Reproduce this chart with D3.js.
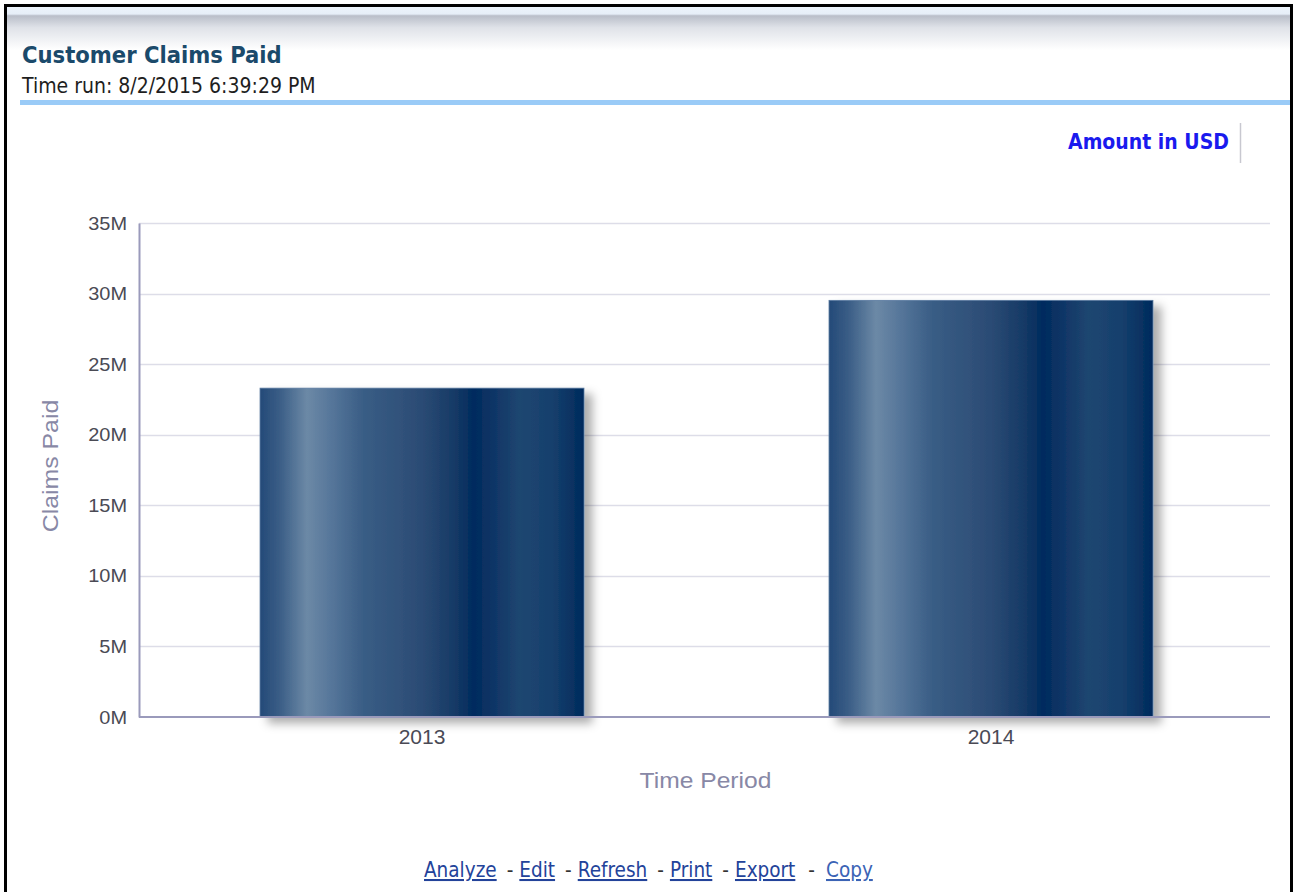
<!DOCTYPE html>
<html>
<head>
<meta charset="utf-8">
<script src="https://cdn.jsdelivr.net/npm/d3@7"></script>
<style>
  html, body { margin: 0; padding: 0; background: #fff; }
  svg { display: block; }
</style>
</head>
<body>
<svg id="chart" width="1296" height="892"></svg>
<script>
// ---- data ----
const categories = ["2013", "2014"];
const claimsPaid = [23300000, 29520000];
const yTicks = [0, 5000000, 10000000, 15000000, 20000000, 25000000, 30000000, 35000000];
const yTickLabels = ["0M", "5M", "10M", "15M", "20M", "25M", "30M", "35M"];
const chartTitle = "Customer Claims Paid";
const timeRun = "Time run: 8/2/2015 6:39:29 PM";
const unitLabel = "Amount in USD";
const xAxisTitle = "Time Period";
const yAxisTitle = "Claims Paid";
const footerLinks = ["Analyze", "Edit", "Refresh", "Print", "Export", "Copy"];

const svg = d3.select("#chart");

// ---- defs ----
const defs = svg.append("defs");
const hdr = defs.append("linearGradient").attr("id", "hdrGrad")
  .attr("x1", 0).attr("y1", 0).attr("x2", 0).attr("y2", 1);
[[0, "#eef5fc"], [0.2, "#e6eef8"], [0.24, "#b9bec9"], [0.5, "#dfe2e8"], [1, "#ffffff"]]
  .forEach(([o, c]) => hdr.append("stop").attr("offset", o).attr("stop-color", c));

const barGrad = defs.append("linearGradient").attr("id", "barGrad")
  .attr("x1", 0).attr("y1", 0).attr("x2", 1).attr("y2", 0);
[[0, "#244a78"], [0.06, "#3a5d86"], [0.145, "#6c89a6"], [0.22, "#56769a"],
 [0.32, "#395d85"], [0.5, "#2b4b74"], [0.6, "#163a66"], [0.66, "#002b5e"],
 [0.72, "#0f3566"], [0.8, "#1f4670"], [0.9, "#16406d"], [1, "#002a5c"]]
  .forEach(([o, c]) => barGrad.append("stop").attr("offset", o).attr("stop-color", c));

const shadow = defs.append("filter").attr("id", "barShadow")
  .attr("x", "-10%").attr("y", "-10%").attr("width", "130%").attr("height", "130%");
shadow.append("feDropShadow").attr("dx", 8).attr("dy", 6).attr("stdDeviation", 5)
  .attr("flood-color", "#000").attr("flood-opacity", 0.32);

// ---- frame / header ----
svg.append("rect").attr("x", 5).attr("y", 5).attr("width", 1286).attr("height", 45)
  .attr("fill", "url(#hdrGrad)");
svg.append("path")
  .attr("d", "M5.5,896 V5.5 H1291.5 V896")
  .attr("fill", "none").attr("stroke", "#000").attr("stroke-width", 3);

const headFont = "'DejaVu Sans', Tahoma, Verdana, sans-serif";
svg.append("text").attr("x", 22).attr("y", 63)
  .attr("font-family", headFont).attr("font-stretch", "condensed")
  .attr("font-weight", "bold").attr("font-size", 23.5).attr("fill", "#1b4a6b")
  .text(chartTitle);
svg.append("text").attr("x", 22).attr("y", 93)
  .attr("font-family", headFont).attr("font-stretch", "condensed")
  .attr("font-size", 21).attr("fill", "#1e1e1e")
  .text(timeRun);
svg.append("rect").attr("x", 20).attr("y", 100).attr("width", 1270).attr("height", 5)
  .attr("fill", "#9acbf7");

// unit label
svg.append("text").attr("x", 1229).attr("y", 149).attr("text-anchor", "end")
  .attr("font-family", headFont).attr("font-stretch", "condensed")
  .attr("font-weight", "bold").attr("font-size", 21).attr("fill", "#1a1aee")
  .text(unitLabel);
svg.append("line").attr("x1", 1240.5).attr("x2", 1240.5).attr("y1", 123).attr("y2", 163)
  .attr("stroke", "#c8c8d0").attr("stroke-width", 1.5);

// ---- chart ----
const plot = { left: 139, right: 1270, top: 223, bottom: 717 };
const x = d3.scaleBand().domain(categories)
  .range([plot.left, plot.right + 4]).paddingInner(0.4306).paddingOuter(0.2127);
const y = d3.scaleLinear().domain([0, 35000000]).range([plot.bottom, plot.top]);

const chartFont = "'Liberation Sans', Arial, sans-serif";

// gridlines
svg.append("g").selectAll("line").data(yTicks.filter(d => d > 0)).join("line")
  .attr("x1", plot.left).attr("x2", plot.right)
  .attr("y1", d => Math.round(y(d)) + 0.5).attr("y2", d => Math.round(y(d)) + 0.5)
  .attr("stroke", "#dddde8").attr("stroke-width", 1.5);

// bars
svg.append("g").selectAll("rect").data(categories).join("rect")
  .attr("x", d => x(d))
  .attr("y", (d, i) => y(claimsPaid[i]))
  .attr("width", x.bandwidth())
  .attr("height", (d, i) => y(0) - y(claimsPaid[i]))
  .attr("fill", "url(#barGrad)")
  .attr("stroke", "#5a7aa0").attr("stroke-width", 0.8)
  .attr("filter", "url(#barShadow)");

// y axis
const yAxis = d3.axisLeft(y).tickValues(yTicks)
  .tickFormat((d, i) => yTickLabels[i]).tickSize(0).tickPadding(12);
const gy = svg.append("g").attr("transform", `translate(${plot.left},0)`).call(yAxis);
gy.select(".domain").attr("stroke", "#9a9abb").attr("stroke-width", 2);
gy.selectAll(".tick text").attr("font-family", chartFont).attr("font-size", 19)
  .attr("fill", "#4a4a55")
  .attr("x", 0).attr("transform", "translate(-12,0) scale(1.05,1)");

// x axis
const xAxis = d3.axisBottom(x).tickSize(0).tickPadding(12);
const gx = svg.append("g").attr("transform", `translate(0,${plot.bottom})`).call(xAxis);
gx.select(".domain").attr("stroke", "#9a9abb").attr("stroke-width", 2)
  .attr("d", `M${plot.left},0H${plot.right}`);
gx.selectAll(".tick text").attr("font-family", chartFont).attr("font-size", 21)
  .attr("fill", "#4a4a55");

// axis titles
svg.append("text")
  .attr("transform", `translate(${(plot.left + plot.right) / 2 + 1},788) scale(1.12,1)`)
  .attr("text-anchor", "middle").attr("font-family", chartFont).attr("font-size", 22)
  .attr("fill", "#8888a6").text(xAxisTitle);
svg.append("text")
  .attr("transform", `translate(58,${(plot.top + plot.bottom) / 2 - 4}) rotate(-90) scale(1.13,1)`)
  .attr("text-anchor", "middle").attr("font-family", chartFont).attr("font-size", 22)
  .attr("fill", "#8888a6").text(yAxisTitle);

// ---- footer links ----
const foot = svg.append("text").attr("x", 424).attr("y", 877)
  .attr("font-family", headFont).attr("font-stretch", "condensed").attr("font-size", 20.5);
footerLinks.forEach((t, i) => {
  const last = i === footerLinks.length - 1;
  if (i > 0) foot.append("tspan").attr("dx", last ? 13 : 10).attr("fill", "#333").text("-");
  foot.append("tspan").attr("dx", i > 0 ? (last ? 11 : 6) : 0)
    .attr("fill", last ? "#3b63b5" : "#23439a")
    .attr("text-decoration", "underline").text(t);
});
</script>
</body>
</html>
